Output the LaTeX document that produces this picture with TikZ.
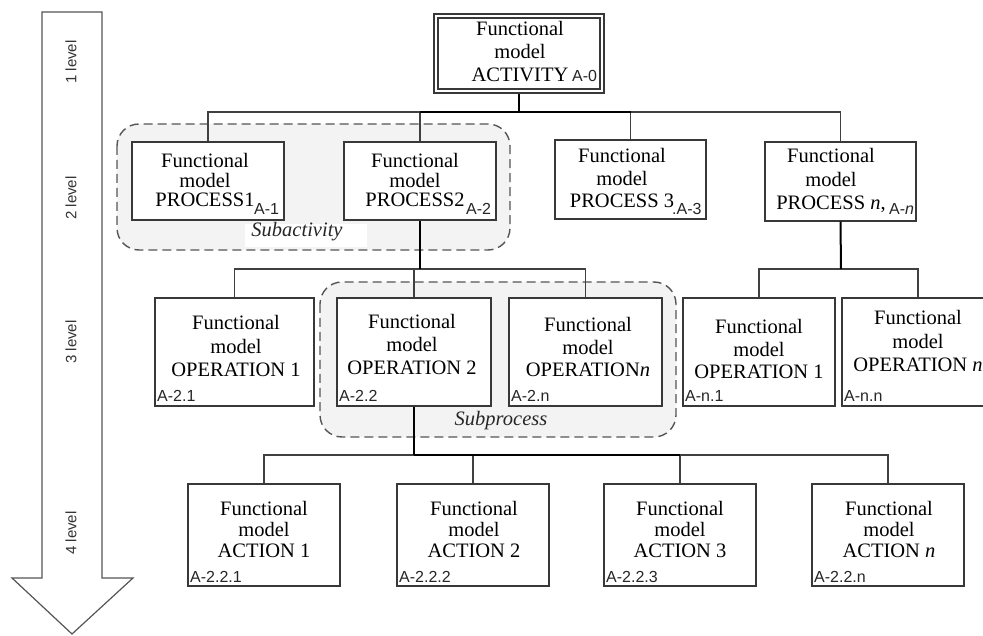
\documentclass[tikz,border=0pt]{standalone}
\usepackage{fontspec}
\setmainfont{Liberation Serif}
\setsansfont{Liberation Sans}
\newcommand\ftext[4]{\vtop{\baselineskip=#1\lineskiplimit=-20pt\lineskip=0pt\halign{\hfil##\hfil\cr #2\cr #3\cr #4\cr}}}
\definecolor{boxgray}{HTML}{383838}
\definecolor{linegray}{HTML}{404040}
\definecolor{regfill}{HTML}{F3F3F3}
\definecolor{reggray}{HTML}{555555}
\tikzset{
  box/.style={draw=boxgray, line width=1.4pt, fill=white, inner sep=0pt},
  region/.style={draw=reggray, fill=regfill, line width=1.4pt, dash pattern=on 9pt off 5pt, rounded corners=22pt},
  link/.style={draw=linegray, line width=1.3pt},
  slink/.style={draw=black, line width=2pt},
  txt/.style={anchor=base, inner sep=0pt, font=\fontsize{20.5}{22}\selectfont, text=black},
  lab/.style={anchor=base west, inner sep=0pt, font=\sffamily\fontsize{16}{18}\selectfont, text=black!85},
  lvl/.style={inner sep=0pt, rotate=90, font=\sffamily\fontsize{15}{17}\selectfont, text=black!80},
  sublab/.style={anchor=base, inner sep=0pt, font=\itshape\fontsize{20.5}{22}\selectfont, text=black!85},
  arrowshape/.style={draw=reggray, line width=1.2pt, fill=white, line join=miter}
}
\begin{document}
\begin{tikzpicture}[x=1pt, y=-1pt]
\clip (0,0) rectangle (983,636);
\fill[white] (0,0) rectangle (983,636);

% level arrow
\draw[arrowshape] (42,12) -- (102,12) -- (102,578) -- (133,578) -- (72,634) -- (12,578) -- (42,578) -- cycle;
\node[lvl] (l1) at (71,62) {1 level};
\node[lvl] (l2) at (71,198) {2 level};
\node[lvl] (l3) at (71,342) {3 level};
\node[lvl] (l4) at (71,533) {4 level};

% grouping regions
\draw[region] (117,124) rectangle (510,250);
\fill[white] (245,224) rectangle (367,247);
\draw[region] (320,282) rectangle (676,437);

% boxes
\node[box, minimum width=170pt, minimum height=79pt] (top) at (519,53.5) {};
\node[box, minimum width=162pt, minimum height=71pt] (topin) at (519,53.5) {};

\node[box, minimum width=152pt, minimum height=78pt] (p1) at (208,181) {};
\node[box, minimum width=152pt, minimum height=78pt] (p2) at (420,181) {};
\node[box, minimum width=151pt, minimum height=79pt] (p3) at (630.5,179.5) {};
\node[box, minimum width=151pt, minimum height=79pt] (pn) at (840.5,181.5) {};

\node[box, minimum width=159pt, minimum height=108pt] (o1) at (234.5,352) {};
\node[box, minimum width=154pt, minimum height=108pt] (o2) at (414,352) {};
\node[box, minimum width=153pt, minimum height=108pt] (on) at (585.5,352) {};
\node[box, minimum width=152pt, minimum height=108pt] (n1) at (759,352) {};
\node[box, minimum width=152pt, minimum height=108pt] (nn) at (918,352) {};

\node[box, minimum width=152pt, minimum height=102pt] (a1) at (264,535) {};
\node[box, minimum width=152pt, minimum height=102pt] (a2) at (473,535) {};
\node[box, minimum width=152pt, minimum height=102pt] (a3) at (680,535) {};
\node[box, minimum width=152pt, minimum height=102pt] (an) at (888,535) {};

% connectors
\coordinate (b1) at (519,112);
\coordinate (b2) at (420,269);
\coordinate (b3) at (841,269);
\coordinate (b4) at (414,455);

\draw[link] (p1.north) -- (p1.north |- b1) -- (pn.north |- b1) -- (pn.north);
\draw[link] (p2.north) -- (p2.north |- b1);
\draw[link] (p3.north) -- (p3.north |- b1);
\draw[slink] (top.south) -- (b1);
\draw[slink] (p2.north |- b1) -- (p3.north |- b1);

\draw[link] (o1.north) -- (o1.north |- b2) -- (on.north |- b2) -- (on.north);
\draw[link] (o2.north) -- (o2.north |- b2);
\draw[slink] (p2.south) -- (b2);

\draw[link] (n1.north) -- (n1.north |- b3) -- (nn.north |- b3) -- (nn.north);
\draw[slink] (pn.south) -- (b3);

\draw[link] (a1.north) -- (a1.north |- b4) -- (an.north |- b4) -- (an.north);
\draw[link] (a2.north) -- (a2.north |- b4);
\draw[link] (a3.north) -- (a3.north |- b4);
\draw[slink] (o2.south) -- (b4);
\draw[slink] (b4) -- (a3.north |- b4);

% box texts
\node[txt] (ttop) at (520,36) {\ftext{23pt}{Functional}{model}{ACTIVITY}};
\node[lab] (ltop) at (572,82) {A-0};

\node[txt] (tp1) at (205,168) {\ftext{19.5pt}{Functional}{model}{PROCESS1}};
\node[lab] (lp1) at (254,215) {A-1};
\node[txt] (tp2) at (415,168) {\ftext{19.5pt}{Functional}{model}{PROCESS2}};
\node[lab] (lp2) at (466,215) {A-2};
\node[txt] (tp3) at (622,163) {\ftext{22.5pt}{Functional}{model}{PROCESS 3}};
\node[lab] (lp3) at (672,215) {.A-3};
\node[txt] (tpn) at (831,163) {\ftext{23.5pt}{Functional}{model}{PROCESS \textit{n},}};
\node[lab] (lpn) at (889,215) {A-\textit{n}};

\node[txt] (to1) at (236,330) {\ftext{23.5pt}{Functional}{model}{OPERATION 1}};
\node[lab] (lo1) at (157,402) {A-2.1};
\node[txt] (to2) at (412,329) {\ftext{23pt}{Functional}{model}{OPERATION 2}};
\node[lab] (lo2) at (339,402) {A-2.2};
\node[txt] (ton) at (588,332) {\ftext{22.5pt}{Functional}{model}{OPERATION\textit{n}}};
\node[lab] (lon) at (511,402) {A-2.n};
\node[txt] (tn1) at (759,334) {\ftext{22.5pt}{Functional}{model}{OPERATION 1}};
\node[lab] (ln1) at (685,402) {A-n.1};
\node[txt] (tnn) at (918,325) {\ftext{23.5pt}{Functional}{model}{OPERATION \textit{n}}};
\node[lab] (lnn) at (844,402) {A-n.n};

\node[txt] (ta1) at (264,515) {\ftext{21pt}{Functional}{model}{ACTION 1}};
\node[lab] (la1) at (190,582) {A-2.2.1};
\node[txt] (ta2) at (474,515) {\ftext{21pt}{Functional}{model}{ACTION 2}};
\node[lab] (la2) at (399,582) {A-2.2.2};
\node[txt] (ta3) at (680,515) {\ftext{21pt}{Functional}{model}{ACTION 3}};
\node[lab] (la3) at (606,582) {A-2.2.3};
\node[txt] (tan) at (889,515) {\ftext{21pt}{Functional}{model}{ACTION \textit{n}}};
\node[lab] (lan) at (814,582) {A-2.2.n};

% region labels
\node[sublab] (ssub) at (297,237) {Subactivity};
\node[sublab] (sproc) at (501,425) {Subprocess};
\end{tikzpicture}
\end{document}
